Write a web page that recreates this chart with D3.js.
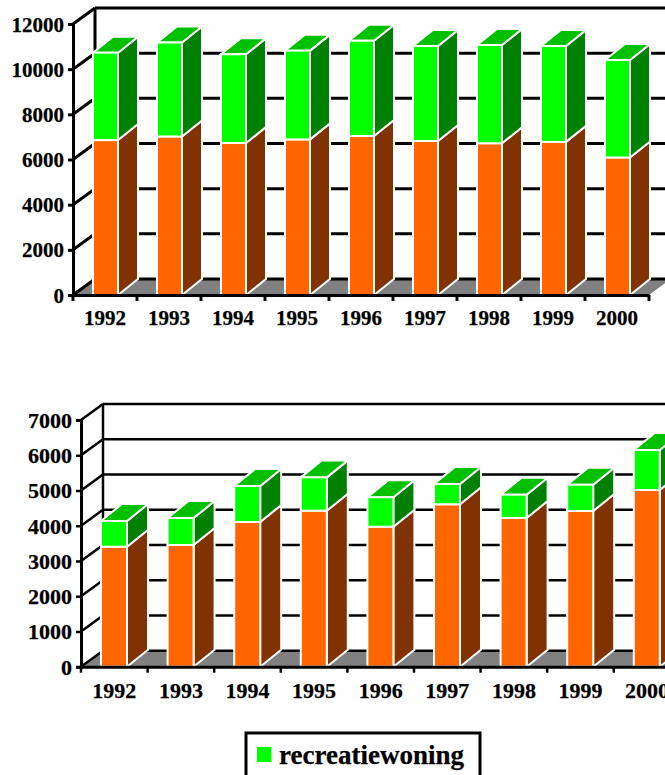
<!DOCTYPE html>
<html>
<head>
<meta charset="utf-8">
<script src="https://cdn.jsdelivr.net/npm/d3@7"></script>
<style>
  html, body { margin: 0; padding: 0; background: #fff; overflow: hidden; }
  svg { display: block; }
  text { font-family: "Liberation Serif", serif; font-weight: bold; fill: #000; stroke: #000; stroke-width: 0.25px; }
</style>
</head>
<body>
<div id="chart-area"></div>
<script>
const years = ["1992", "1993", "1994", "1995", "1996", "1997", "1998", "1999", "2000"];

// upper chart
const upperBase = [6860, 7020, 6730, 6890, 7040, 6820, 6720, 6780, 6090];
const upperRecreatie = [3870, 4160, 3930, 3930, 4220, 4205, 4350, 4245, 4315];
const upperTicks = [0, 2000, 4000, 6000, 8000, 10000, 12000];

// lower chart
const lowerBase = [3405, 3453, 4106, 4427, 3973, 4608, 4220, 4418, 5014];
const lowerRecreatie = [730, 765, 1020, 945, 835, 575, 660, 745, 1135];
const lowerTicks = [0, 1000, 2000, 3000, 4000, 5000, 6000, 7000];

const legendLabel = "recreatiewoning";

const svgWidth = 665, svgHeight = 775;
const depthX = 22, depthY = -16;

const svg = d3.select("#chart-area")
              .append("svg")
              .attr("width", svgWidth)
              .attr("height", svgHeight);

const colors = {
  base: { front: "#ff6600", side: "#803300" },
  recreatie: { front: "#00ff00", side: "#008000", top: "#00c000" }
};

function drawChart(opts) {
  const g = svg.append("g");
  const barDepthX = opts.barDepthX, barDepthY = opts.barDepthY;

  const y = d3.scaleLinear()
              .domain([0, d3.max(opts.ticks)])
              .range([opts.y0, opts.yTop]);
  const x = d3.scaleBand()
              .domain(years)
              .range([opts.x0, opts.x0 + opts.band * years.length]);

  const rows = years.map((d, i) => ({ year: d, base: opts.base[i], recreatie: opts.recreatie[i] }));
  const series = d3.stack().keys(["base", "recreatie"])(rows);

  // floor
  const xEnd = x.range()[1];
  g.append("path")
   .attr("d", `M${opts.x0},${opts.y0} L${opts.x0 + depthX},${opts.y0 + depthY} L${xEnd + depthX},${opts.y0 + depthY} L${xEnd},${opts.y0} Z`)
   .attr("fill", "#808080");

  // back wall grid lines and the side wall diagonals
  g.selectAll(".grid")
   .data(opts.ticks)
   .enter()
   .append("line")
     .attr("x1", opts.x0 + depthX)
     .attr("x2", xEnd + depthX)
     .attr("y1", d => y(d) + depthY)
     .attr("y2", d => y(d) + depthY)
     .attr("stroke", "#000")
     .attr("stroke-width", opts.gridWidth);
  g.selectAll(".diag")
   .data(opts.ticks)
   .enter()
   .append("line")
     .attr("x1", opts.x0)
     .attr("x2", opts.x0 + depthX)
     .attr("y1", d => y(d))
     .attr("y2", d => y(d) + depthY)
     .attr("stroke", "#000")
     .attr("stroke-width", opts.gridWidth);
  g.append("line")
   .attr("x1", opts.x0 + depthX)
   .attr("x2", opts.x0 + depthX)
   .attr("y1", y(d3.max(opts.ticks)) + depthY)
   .attr("y2", opts.y0 + depthY)
   .attr("stroke", "#000")
   .attr("stroke-width", opts.gridWidth);

  // bars, one column at a time from left to right
  const parts = g.selectAll(".column")
                 .data(years)
                 .enter()
                 .append("g");
  parts.each(function (year, i) {
    const col = d3.select(this);
    const left = x(year) + opts.barLeft;
    const right = left + opts.barWidth;
    series.forEach(s => {
      const c = colors[s.key];
      const top = y(s[i][1]), bottom = y(s[i][0]);
      col.append("path")
         .attr("d", `M${right},${bottom} L${right + barDepthX},${bottom + barDepthY} L${right + barDepthX},${top + barDepthY} L${right},${top} Z`)
         .attr("fill", c.side)
         .attr("stroke", "#fff")
         .attr("stroke-width", 2);
      if (c.top) {
        col.append("path")
           .attr("d", `M${left},${top} L${left + barDepthX},${top + barDepthY} L${right + barDepthX},${top + barDepthY} L${right},${top} Z`)
           .attr("fill", c.top)
           .attr("stroke", "#fff")
           .attr("stroke-width", 2);
      }
      col.append("rect")
         .attr("x", left)
         .attr("y", top)
         .attr("width", opts.barWidth)
         .attr("height", bottom - top)
         .attr("fill", c.front)
         .attr("stroke", "#fff")
         .attr("stroke-width", 2);
    });
  });

  // axes
  const yAxisCall = d3.axisLeft(y)
                      .tickValues(opts.ticks)
                      .tickFormat(d3.format("d"))
                      .tickSize(5)
                      .tickPadding(4);
  const yAxis = g.append("g")
                 .attr("transform", `translate(${opts.x0},0)`)
                 .call(yAxisCall);
  yAxis.select(".domain").attr("stroke-width", opts.axisWidth);
  yAxis.selectAll(".tick line").attr("stroke-width", opts.gridWidth);
  yAxis.selectAll("text").style("font-size", opts.fontSize + "px").attr("dy", "0.34em");

  const xAxisCall = d3.axisBottom(x).tickSize(0).tickPadding(opts.labelPad);
  const xAxis = g.append("g")
                 .attr("transform", `translate(0,${opts.y0})`)
                 .call(xAxisCall);
  xAxis.select(".domain").attr("stroke-width", opts.axisWidth);
  xAxis.selectAll("text").style("font-size", opts.fontSize + "px");

  // tick marks sit between the years
  xAxis.selectAll(".edge")
       .data(years.concat([null]))
       .enter()
       .append("line")
         .attr("x1", (d, i) => opts.x0 + opts.band * i)
         .attr("x2", (d, i) => opts.x0 + opts.band * i)
         .attr("y1", 0)
         .attr("y2", 6)
         .attr("stroke", "#000")
         .attr("stroke-width", opts.gridWidth);
}

drawChart({
  base: upperBase, recreatie: upperRecreatie, ticks: upperTicks,
  x0: 73, band: 64, y0: 295, yTop: 24,
  barLeft: 20, barWidth: 25, barDepthX: 20, barDepthY: -16,
  gridWidth: 3, axisWidth: 3, fontSize: 21, labelPad: 15
});

drawChart({
  base: lowerBase, recreatie: lowerRecreatie, ticks: lowerTicks,
  x0: 81, band: 66.6, y0: 666.7, yTop: 420,
  barLeft: 20, barWidth: 26, barDepthX: 21, barDepthY: -17,
  gridWidth: 2.5, axisWidth: 3, fontSize: 22, labelPad: 16
});

// legend, cut off by the bottom of the page like the original
const legend = svg.append("g");
legend.append("rect")
      .attr("x", 246)
      .attr("y", 733)
      .attr("width", 234)
      .attr("height", 60)
      .attr("fill", "#fff")
      .attr("stroke", "#000")
      .attr("stroke-width", 3);
legend.append("rect")
      .attr("x", 257)
      .attr("y", 747)
      .attr("width", 14.5)
      .attr("height", 15)
      .attr("fill", colors.recreatie.front);
legend.append("text")
      .attr("x", 279)
      .attr("y", 764)
      .style("font-size", "27px")
      .text(legendLabel);
</script>
</body>
</html>
